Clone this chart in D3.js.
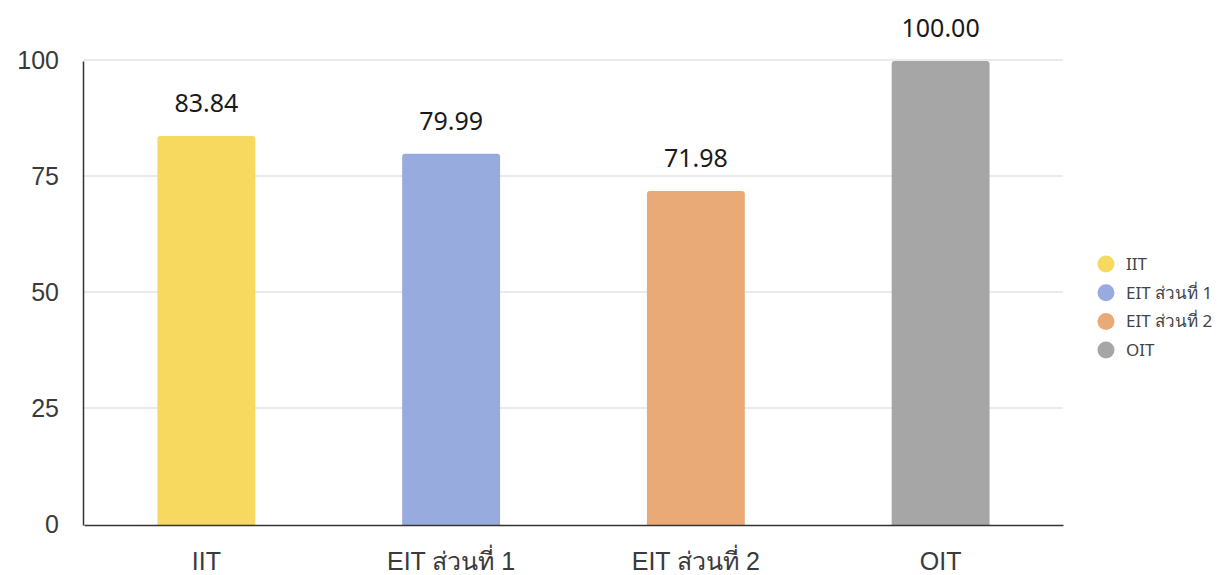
<!DOCTYPE html>
<html>
<head>
<meta charset="utf-8">
<script src="https://cdn.jsdelivr.net/npm/d3@7"></script>
<style>
  body { margin: 0; background: #fff; }
  svg { font-family: 'Noto Sans', 'Open Sans', sans-serif; }
  .grid line { stroke: #e3e3e3; stroke-width: 1.5px; }
  .axis text { fill: #3a3a3a; font-size: 25px; }
  .value { fill: #1a1a1a; font-size: 25px; text-anchor: middle; }
  .legend text { fill: #444; font-size: 17px; }
</style>
</head>
<body>
<div id="chart"></div>
<script>
const categories = ['IIT', 'EIT ส่วนที่ 1', 'EIT ส่วนที่ 2', 'OIT']
const values = [83.84, 79.99, 71.98, 100.00]
const colors = ['#f6d95e', '#98abdf', '#eaaa77', '#a6a6a6']
const yTicks = [0, 25, 50, 75, 100]

const width = 1225
const height = 575
const margin = { top: 61, right: 162, bottom: 50, left: 84 }

const svg = d3.select('#chart')
  .append('svg')
  .attr('width', width)
  .attr('height', height)

const x = d3.scaleBand()
  .domain(categories)
  .range([margin.left, width - margin.right])
  .paddingInner(0.6)
  .paddingOuter(0.3)

const y = d3.scaleLinear()
  .domain([0, 100])
  .range([height - margin.bottom, margin.top])

// gridlines under the bars
svg.append('g')
  .attr('class', 'grid')
  .selectAll('line')
  .data(yTicks.filter(d => d > 0))
  .join('line')
    .attr('x1', margin.left)
    .attr('x2', width - margin.right)
    .attr('y1', d => y(d) - 1)
    .attr('y2', d => y(d) - 1)

// bars, rounded only on top
const r = 3
svg.append('g')
  .selectAll('path')
  .data(categories)
  .join('path')
    .attr('fill', (d, i) => colors[i])
    .attr('d', (d, i) => {
      const x0 = x(d)
      const x1 = x0 + x.bandwidth()
      const yt = y(values[i])
      const yb = y(0)
      return `M${x0},${yb}V${yt + r}Q${x0},${yt} ${x0 + r},${yt}H${x1 - r}Q${x1},${yt} ${x1},${yt + r}V${yb}Z`
    })

// value labels
svg.append('g')
  .selectAll('text')
  .data(categories)
  .join('text')
    .attr('class', 'value')
    .attr('x', d => x(d) + x.bandwidth() / 2)
    .attr('y', (d, i) => y(values[i]) - 24)
    .text((d, i) => values[i].toFixed(2))

// y axis
const yAxis = svg.append('g')
  .attr('class', 'axis')
  .attr('transform', `translate(${margin.left - 1},0)`)
  .call(d3.axisLeft(y).tickValues(yTicks).tickSize(0).tickPadding(24))
yAxis.select('.domain').attr('stroke', '#333').attr('stroke-width', 1.5)
yAxis.selectAll('text').attr('dy', '0.3em')

// x axis
const xAxis = svg.append('g')
  .attr('class', 'axis')
  .attr('transform', `translate(0,${y(0)})`)
  .call(d3.axisBottom(x).tickSize(0).tickPadding(27))
xAxis.select('.domain').attr('stroke', '#333').attr('stroke-width', 1.5)
xAxis.selectAll('text').attr('dy', '0.71em')

// legend
const legend = svg.append('g')
  .attr('class', 'legend')
  .attr('transform', 'translate(1106,264)')
const item = legend.selectAll('g')
  .data(categories)
  .join('g')
    .attr('transform', (d, i) => `translate(0,${i * 28.7})`)
item.append('circle')
  .attr('r', 8.5)
  .attr('fill', (d, i) => colors[i])
item.append('text')
  .attr('x', 20)
  .attr('dy', '0.35em')
  .text(d => d)
</script>
</body>
</html>
